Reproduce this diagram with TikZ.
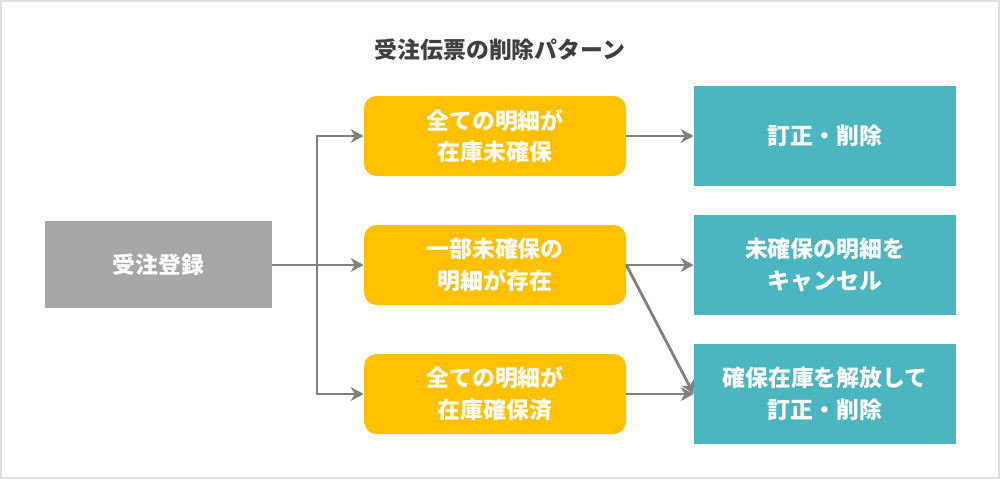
\documentclass[tikz,border=0pt]{standalone}
\usepackage{fontspec}
\setmainfont{Noto Sans CJK JP}
\usepackage{xcolor}
\usepackage{tikz}
\usetikzlibrary{arrows.meta,positioning}
\definecolor{boxgray}{RGB}{166,166,166}
\definecolor{amber}{RGB}{255,192,0}
\definecolor{teal}{RGB}{75,182,191}
\definecolor{linegray}{RGB}{128,128,128}
\definecolor{ink}{RGB}{64,64,64}

\begin{document}
\begin{tikzpicture}[
      start/.style={rectangle, fill=boxgray, minimum width=4.54cm, minimum height=1.74cm, font=\bfseries\fontsize{13}{18}\selectfont, text=white},
      cond/.style={rectangle, rounded corners=0.25cm, fill=amber, minimum width=5.24cm, minimum height=1.6cm, align=center, font=\bfseries\fontsize{13}{18}\selectfont, text=white},
      act/.style={rectangle, fill=teal, minimum width=5.24cm, minimum height=2cm, align=center, font=\bfseries\fontsize{13}{18}\selectfont, text=white},
      arr/.style={-{Stealth[length=2.6mm, width=2.8mm]}, line width=1.6pt, color=linegray}
    ]
      \useasboundingbox (0,0) rectangle (20,-9.58);
      \draw[black!12, line width=0.8pt] (0.02,-0.02) rectangle (19.98,-9.56);
      \node[font=\bfseries\fontsize{13}{16}\selectfont, text=ink] (title) at (10,-1.0) {受注伝票の削除パターン};
      \node[start] (reg) at (3.17,-5.29) {受注登録};
      \node[cond] (c1) at (9.9,-2.72) {全ての明細が\\在庫未確保};
      \node[cond] (c2) at (9.9,-5.30) {一部未確保の\\明細が存在};
      \node[cond] (c3) at (9.9,-7.88) {全ての明細が\\在庫確保済};
      \node[act] (a1) at (16.5,-2.72) {訂正・削除};
      \node[act] (a2) at (16.5,-5.30) {未確保の明細を\\キャンセル};
      \node[act] (a3) at (16.5,-7.88) {確保在庫を解放して\\訂正・削除};
      \coordinate (split) at (6.34,-5.30);
      \draw[arr] (reg.east |- c2) -- (c2.west);
      \draw[arr] (split) |- (c1.west);
      \draw[arr] (split) |- (c3.west);
      \draw[arr] (c1.east) -- (a1.west);
      \draw[arr] (c2.east) -- (a2.west);
      \draw[arr] (c3.east) -- (a3.west);
      \draw[arr] (c2.east) -- (a3.west);
    \end{tikzpicture}
\end{document}
